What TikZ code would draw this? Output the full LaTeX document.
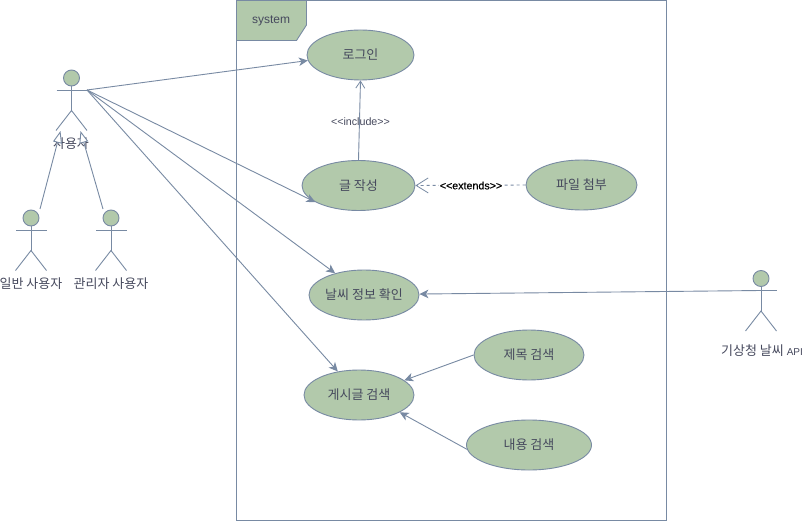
\documentclass[tikz,border=0pt]{standalone}
\usepackage{fontspec}
\setmainfont{Liberation Sans}
\newfontfamily\kofont{Noto Sans CJK KR}[Scale=1]
\newfontfamily\fakebold{Liberation Sans}[FakeBold=0.6]
\usetikzlibrary{arrows.meta,shapes.geometric}
\definecolor{sagefill}{HTML}{B2C9AB}
\definecolor{slateline}{HTML}{788AA3}
\definecolor{inktext}{HTML}{46495D}
\tikzset{
  x=1pt,y=-1pt,
  line/.style={draw=slateline,line width=0.9pt},
  usecase/.style={ellipse,draw=slateline,fill=sagefill,line width=0.9pt,inner sep=0pt,minimum height=50pt,text=inktext,font=\kofont\fontsize{13}{15}\selectfont},
  head/.style={circle,draw=slateline,fill=sagefill,line width=0.9pt,minimum size=16pt,inner sep=0pt},
  actorlabel/.style={text=inktext,inner sep=0pt,font=\kofont\fontsize{13}{15}\selectfont},
  assoc/.style={line,-{Stealth[length=9pt,width=8.5pt,inset=2.5pt,fill=slateline]}},
  openarrow/.style={line,-{Straight Barb[length=7pt,width=9pt,line width=0.8pt]}},
  genarrow/.style={line,-{Triangle[open,length=12pt,width=9pt,fill=white]}},
  actor/.pic={
    \coordinate (-c) at (0,12);
    \coordinate (-hand) at (15.5,12);
    \draw[line] (-15,12) -- (15.5,12);
    \draw[line] (0,8) -- (0,32.5);
    \draw[line] (-15.5,52.5) -- (0,32.5) -- (15.5,52.5);
    \node[head] at (0,0) {};
  }
}
\begin{document}
\begin{tikzpicture}
\useasboundingbox[fill=white] (0,0) rectangle (805,521);
% system frame
\draw[line] (236.5,0.5) rectangle (666,520.5);
\path[line,fill=sagefill] (236.5,0.5) -- (306.5,0.5) -- (306.5,25) -- (296.5,40.5) -- (236.5,40.5) -- cycle;
\node[text=inktext,inner sep=0pt,font=\fontsize{12}{14}\selectfont] (systitle) at (271,21) {system};
% actors
\pic (user) at (71.5,78) {actor};
\pic (normal) at (31,218) {actor};
\pic (admin) at (111,218) {actor};
\pic (api) at (761,278.5) {actor};
\node[actorlabel] (userlabel) at (71,144) {사용자};
\node[actorlabel] (normallabel) at (31,284) {일반 사용자};
\node[actorlabel] (adminlabel) at (111,284) {관리자 사용자};
\node[actorlabel] (apilabel) at (762,351) {기상청 날씨 {\rmfamily\fontsize{10}{11}\selectfont API}};
% generalisations
\coordinate (genstartA) at (40,209);
\coordinate (genstartB) at (103,209);
\coordinate (genendA) at (60.5,131);
\coordinate (genendB) at (80.5,131);
\draw[genarrow] (genstartA) -- (genendA);
\draw[genarrow] (genstartB) -- (genendB);
% use cases
\node[usecase,minimum width=107pt] (login) at (360.5,55) {로그인};
\node[usecase,minimum width=113pt] (write) at (358.5,185.5) {글 작성};
\node[usecase,minimum width=111pt] (attach) at (581.5,185) {파일 첨부};
\node[usecase,minimum width=110pt] (weather) at (364,295) {날씨 정보 확인};
\node[usecase,minimum width=110pt] (search) at (359,395) {게시글 검색};
\node[usecase,minimum width=110pt] (title) at (529,355) {제목 검색};
\node[usecase,minimum width=125pt] (content) at (529,445) {내용 검색};
% associations
\draw[assoc] (user-hand) -- (login.186.5);
\draw[assoc] (user-hand) -- (write.201);
\draw[assoc] (user-hand) -- (weather.143.4);
\draw[assoc] (user-hand) -- (search.132.4);
\draw[assoc] (api-c) -- (weather.1);
\draw[assoc] (title.west) -- (search.18);
\draw[assoc] (content.184) -- (search.-23.6);
% include / extends
\draw[openarrow] (write.north) -- (login.south);
\node[text=inktext,inner sep=0pt,font=\fontsize{10.7}{12}\selectfont] (inclabel) at (360.5,121.5) {<{}<include>{}>};
\draw[line,dashed,dash pattern=on 3pt off 3pt,-{Straight Barb[length=12pt,width=15pt,line width=0.8pt]}] (attach.west) -- (write.east);
\node[fill=white,text=black,inner sep=1pt,font=\fakebold\fontsize{10.7}{12}\selectfont] (extlabel) at (471,185.5) {<{}<extends>{}>};
\end{tikzpicture}
\end{document}
